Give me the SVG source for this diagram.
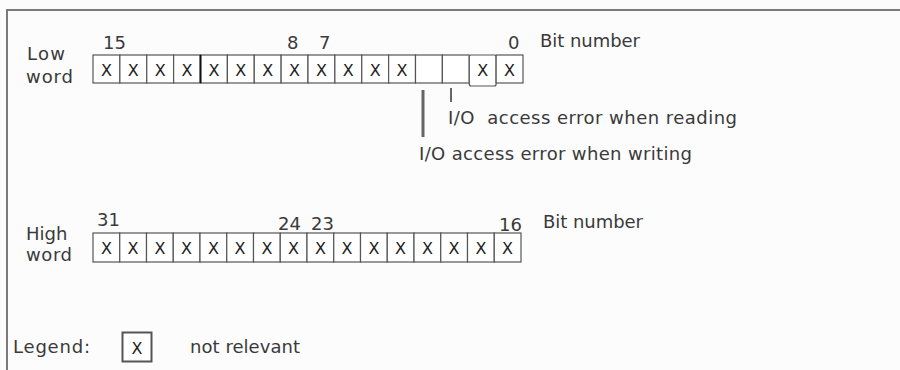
<svg xmlns="http://www.w3.org/2000/svg" width="900" height="370" viewBox="0 0 900 370">
<style>
text{font-family:"DejaVu Sans","Liberation Sans",sans-serif;font-size:18px;fill:#3a3a3a}
.x{text-anchor:middle;font-size:16px;fill:#222}
.cell{fill:#fff;stroke:#555;stroke-width:1.2}
.frame{stroke:#7a7a7a;stroke-width:2;fill:none}
.lead{stroke:#666;fill:none}
</style>
<rect width="900" height="370" fill="#fcfcfc"/>
<path class="frame" d="M7,370 V10 H900"/>

<g id="low-word">
<text x="27" y="60" textLength="38">Low</text>
<text x="26" y="83" textLength="47">word</text>
<text x="103" y="49">15</text>
<text x="287" y="49">8</text>
<text x="319" y="49">7</text>
<text x="508" y="49">0</text>
<text x="540" y="47" textLength="100">Bit number</text>
<g id="low-cells">
<rect class="cell" x="93" y="55" width="26.875" height="28"/>
<rect class="cell" x="119.875" y="55" width="26.875" height="28"/>
<rect class="cell" x="146.75" y="55" width="26.875" height="28"/>
<rect class="cell" x="173.625" y="55" width="26.875" height="28"/>
<rect class="cell" x="200.5" y="55" width="26.875" height="28"/>
<rect class="cell" x="227.375" y="55" width="26.875" height="28"/>
<rect class="cell" x="254.25" y="55" width="26.875" height="28"/>
<rect class="cell" x="281.125" y="55" width="26.875" height="28"/>
<rect class="cell" x="308" y="55" width="26.875" height="28"/>
<rect class="cell" x="334.875" y="55" width="26.875" height="28"/>
<rect class="cell" x="361.75" y="55" width="26.875" height="28"/>
<rect class="cell" x="388.625" y="55" width="26.875" height="28"/>
<rect class="cell" x="415.5" y="55" width="26.875" height="28"/>
<rect class="cell" x="442.375" y="55" width="26.875" height="28"/>
<rect class="cell" x="469.25" y="55" width="26.875" height="31" rx="2"/>
<rect class="cell" x="496.125" y="55" width="26.875" height="28"/>
<line x1="200.5" y1="55" x2="200.5" y2="83" stroke="#111" stroke-width="2"/>
</g>
<g id="low-x">
<text class="x" x="106.4" y="76">X</text>
<text class="x" x="133.3" y="76">X</text>
<text class="x" x="160.2" y="76">X</text>
<text class="x" x="187.1" y="76">X</text>
<text class="x" x="213.9" y="76">X</text>
<text class="x" x="240.8" y="76">X</text>
<text class="x" x="267.7" y="76">X</text>
<text class="x" x="294.6" y="76">X</text>
<text class="x" x="321.4" y="76">X</text>
<text class="x" x="348.3" y="76">X</text>
<text class="x" x="375.2" y="76">X</text>
<text class="x" x="402.1" y="76">X</text>
<text class="x" x="482.7" y="76">X</text>
<text class="x" x="509.6" y="76">X</text>
</g>
</g>

<g id="connectors">
<line class="lead" x1="423" y1="90" x2="423" y2="137" stroke-width="3"/>
<line class="lead" x1="451" y1="88" x2="451" y2="102" stroke-width="2"/>
</g>

<g id="read-label">
<text x="448" y="124" textLength="289" style="white-space:pre">I/O  access error when reading</text>
</g>
<g id="write-label">
<text x="419" y="160" textLength="273">I/O access error when writing</text>
</g>

<g id="high-word">
<text x="26" y="240">High</text>
<text x="26" y="261" textLength="46">word</text>
<text x="97" y="226">31</text>
<text x="278" y="230">24</text>
<text x="311" y="230">23</text>
<text x="499" y="231">16</text>
<text x="543" y="228" textLength="100">Bit number</text>
<g id="high-cells">
<rect class="cell" x="93" y="233" width="26.75" height="29"/>
<rect class="cell" x="119.75" y="233" width="26.75" height="29"/>
<rect class="cell" x="146.5" y="233" width="26.75" height="29"/>
<rect class="cell" x="173.25" y="233" width="26.75" height="29"/>
<rect class="cell" x="200" y="233" width="26.75" height="29"/>
<rect class="cell" x="226.75" y="233" width="26.75" height="29"/>
<rect class="cell" x="253.5" y="233" width="26.75" height="29"/>
<rect class="cell" x="280.25" y="233" width="26.75" height="29"/>
<rect class="cell" x="307" y="233" width="26.75" height="29"/>
<rect class="cell" x="333.75" y="233" width="26.75" height="29"/>
<rect class="cell" x="360.5" y="233" width="26.75" height="29"/>
<rect class="cell" x="387.25" y="233" width="26.75" height="29"/>
<rect class="cell" x="414" y="233" width="26.75" height="29"/>
<rect class="cell" x="440.75" y="233" width="26.75" height="29"/>
<rect class="cell" x="467.5" y="233" width="26.75" height="29"/>
<rect class="cell" x="494.25" y="233" width="26.75" height="29"/>
</g>
<g id="high-x">
<text class="x" x="106.4" y="254">X</text>
<text class="x" x="133.1" y="254">X</text>
<text class="x" x="159.9" y="254">X</text>
<text class="x" x="186.6" y="254">X</text>
<text class="x" x="213.4" y="254">X</text>
<text class="x" x="240.1" y="254">X</text>
<text class="x" x="266.9" y="254">X</text>
<text class="x" x="293.6" y="254">X</text>
<text class="x" x="320.4" y="254">X</text>
<text class="x" x="347.1" y="254">X</text>
<text class="x" x="373.9" y="254">X</text>
<text class="x" x="400.6" y="254">X</text>
<text class="x" x="427.4" y="254">X</text>
<text class="x" x="454.1" y="254">X</text>
<text class="x" x="480.9" y="254">X</text>
<text class="x" x="507.6" y="254">X</text>
</g>
</g>

<g id="legend">
<text x="13" y="353" textLength="77">Legend:</text>
<rect x="122.5" y="332.5" width="29" height="29" fill="#fff" stroke="#555" stroke-width="2"/>
<text class="x" x="137" y="354">X</text>
<text x="190" y="353" textLength="110">not relevant</text>
</g>
</svg>
